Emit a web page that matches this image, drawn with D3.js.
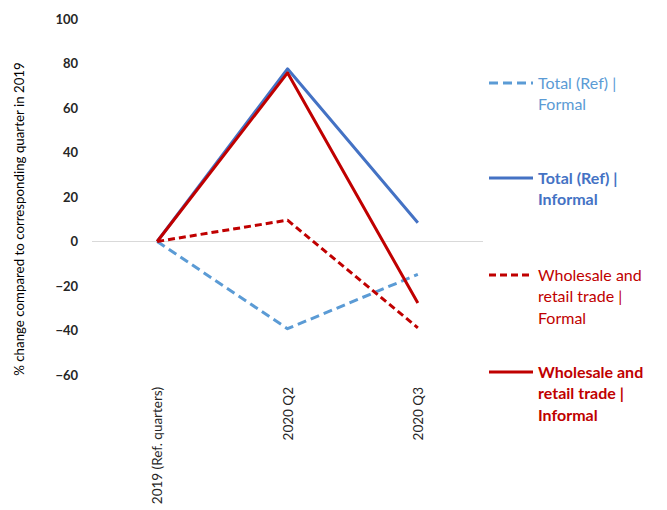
<!DOCTYPE html>
<html><head><meta charset="utf-8">
<script src="https://cdn.jsdelivr.net/npm/d3@7"></script>
<style>body{margin:0;background:#fff;} svg{display:block;}</style>
</head><body><svg id="c" width="667" height="510"></svg>
<script>
const categories = ["2019 (Ref. quarters)", "2020 Q2", "2020 Q3"];
const totalFormal = [0, -39.2, -14.8];
const totalInformal = [0, 77.6, 8.4];
const wholesaleFormal = [0, 9.6, -38.8];
const wholesaleInformal = [0, 75.8, -27.6];
const yTicks = [-60, -40, -20, 0, 20, 40, 60, 80, 100];
const yTitle = "% change compared to corresponding  quarter in 2019";

const seriesDefs = [
  {lines:["Total (Ref) |","Formal"], values: totalFormal, color:"#5B9BD5", dash:"9,5", bold:false},
  {lines:["Total (Ref) |","Informal"], values: totalInformal, color:"#4472C4", dash:null, bold:true},
  {lines:["Wholesale and","retail trade |","Formal"], values: wholesaleFormal, color:"#C00000", dash:"7,4", bold:false},
  {lines:["Wholesale and","retail trade |","Informal"], values: wholesaleInformal, color:"#C00000", dash:null, bold:true}
];

const font = "Lato, 'Open Sans', sans-serif";
const svg = d3.select("#c");
const x = d3.scaleBand().domain(categories).range([92, 483]);
const y = d3.scaleLinear().domain([-60, 100]).range([375, 19]);

// zero line
svg.append("line").attr("x1", 92).attr("x2", 483).attr("y1", y(0)).attr("y2", y(0))
  .attr("stroke", "#d9d9d9").attr("stroke-width", 1.2);

// y axis labels
const yAxis = d3.axisLeft(y).tickValues(yTicks).tickSize(0).tickPadding(0);
const yg = svg.append("g").attr("transform", "translate(78,0)").call(yAxis);
yg.select(".domain").remove();
yg.selectAll("text").attr("font-family", font).attr("font-size", 13).attr("font-weight", "bold").attr("fill", "#262626");

// y title
svg.append("text").attr("transform", `translate(24,219) rotate(-90)`).attr("text-anchor", "middle")
  .attr("font-family", font).attr("font-size", 13.3).attr("fill", "#000").text(yTitle);

// x labels
const xAxis = d3.axisBottom(x).tickSize(0).tickPadding(0);
const xg = svg.append("g").attr("transform", "translate(0,387)").call(xAxis);
xg.select(".domain").remove();
xg.selectAll("text").attr("font-family", font).attr("font-size", 13.5).attr("fill", "#262626")
  .attr("text-anchor", "end").attr("dy", null).attr("y", 0).attr("x", 0)
  .attr("transform", "rotate(-90)").attr("dominant-baseline", "central");

const line = d3.line().x((d, i) => x(categories[i]) + x.bandwidth() / 2).y(d => y(d));
seriesDefs.forEach(s => {
  svg.append("path").datum(s.values).attr("d", line).attr("fill", "none")
    .attr("stroke", s.color).attr("stroke-width", 3).attr("stroke-dasharray", s.dash)
    .attr("stroke-linejoin", "round");
});

// legend
const legendY = [83, 178, 275, 372];
seriesDefs.forEach((s, i) => {
  const g = svg.append("g").attr("transform", `translate(0,${legendY[i]})`);
  g.append("line").attr("x1", 489).attr("x2", 533).attr("y1", 0).attr("y2", 0)
    .attr("stroke", s.color).attr("stroke-width", 3).attr("stroke-dasharray", s.dash);
  const t = g.append("text").attr("font-family", font).attr("font-size", 16)
    .attr("font-weight", s.bold ? "bold" : "normal").attr("fill", s.color);
  s.lines.forEach((l, j) => {
    t.append("tspan").attr("x", 538).attr("y", j * 21.7).attr("dy", "0.35em").text(l);
  });
});
</script></body></html>
